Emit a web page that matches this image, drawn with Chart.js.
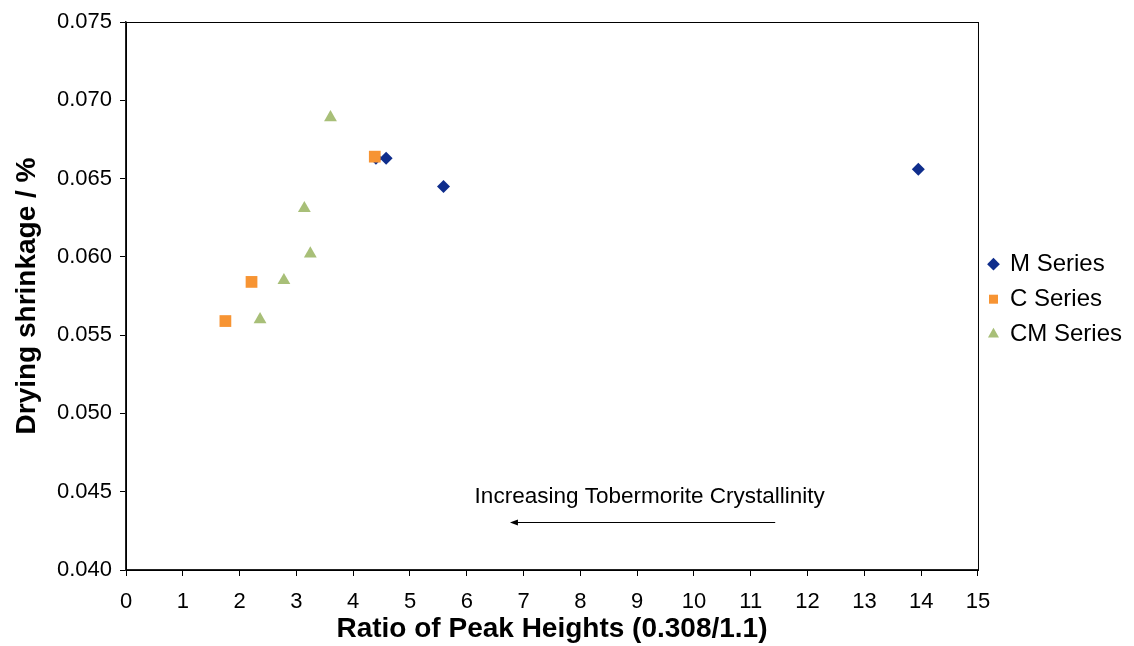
<!DOCTYPE html>
<html>
<head>
<meta charset="utf-8">
<script src="https://cdn.jsdelivr.net/npm/chart.js@4/dist/chart.umd.min.js"></script>
<style>
html,body{margin:0;padding:0;background:#fff;}
#wrap{width:1134px;height:646px;position:relative;}
</style>
</head>
<body>
<div id="wrap"><canvas id="c" width="1134" height="646"></canvas></div>
<script>
// ---- Data ----
const seriesNames = ["M Series", "C Series", "CM Series"];
const mX = [4.40, 4.58, 5.59, 13.95];
const mY = [0.0663, 0.0663, 0.0645, 0.0656];
const cX = [1.75, 2.21, 4.38];
const cY = [0.0559, 0.0584, 0.0664];
const cmX = [2.36, 2.78, 3.14, 3.245, 3.60];
const cmY = [0.0560, 0.0585, 0.0631, 0.0602, 0.0689];
const xTickValues = [0,1,2,3,4,5,6,7,8,9,10,11,12,13,14,15];
const yTickValues = [0.040,0.045,0.050,0.055,0.060,0.065,0.070,0.075];
const xTitle = "Ratio of Peak Heights (0.308/1.1)";
const yTitle = "Drying shrinkage / %";
const noteText = "Increasing Tobermorite Crystallinity";
const arrowFromX = 11.43, arrowToX = 6.76, arrowY = 0.04307;
const noteX = 9.22, noteY = 0.04467;

const toPts = (xs, ys) => xs.map((x, i) => ({x: x, y: ys[i]}));
const FONT = "'Liberation Sans', Arial, sans-serif";

const framePlugin = {
  id: 'frame',
  afterDatasetsDraw(chart) {
    const {ctx, chartArea: a, scales} = chart;
    ctx.save();
    ctx.strokeStyle = '#000';
    ctx.lineWidth = 1;
    ctx.strokeRect(a.left + 0.5, a.top + 0.5, a.right - a.left, a.bottom - a.top);
    // annotation arrow
    const x1 = scales.x.getPixelForValue(arrowFromX);
    const x2 = scales.x.getPixelForValue(arrowToX);
    const yy = Math.round(scales.y.getPixelForValue(arrowY)) + 0.5;
    ctx.beginPath();
    ctx.moveTo(x1, yy);
    ctx.lineTo(x2 + 6, yy);
    ctx.stroke();
    ctx.fillStyle = '#000';
    ctx.beginPath();
    ctx.moveTo(x2, yy);
    ctx.lineTo(x2 + 8, yy - 3);
    ctx.lineTo(x2 + 8, yy + 3);
    ctx.closePath();
    ctx.fill();
    ctx.font = "22.5px " + FONT;
    ctx.textAlign = 'center';
    ctx.textBaseline = 'middle';
    ctx.fillText(noteText, scales.x.getPixelForValue(noteX), scales.y.getPixelForValue(noteY));
    ctx.restore();
  }
};

new Chart(document.getElementById('c'), {
  type: 'scatter',
  data: {
    datasets: [
      {label: seriesNames[0], data: toPts(mX, mY), pointStyle: 'rectRot', pointRadius: 6.5,
       backgroundColor: '#0f2d8c', borderColor: '#0f2d8c', borderWidth: 0, order: 2},
      {label: seriesNames[1], data: toPts(cX, cY), pointStyle: 'rect', pointRadius: 8.3,
       backgroundColor: '#f79433', borderColor: '#f79433', borderWidth: 0, order: 1},
      {label: seriesNames[2], data: toPts(cmX, cmY), pointStyle: 'triangle', pointRadius: 7.4,
       backgroundColor: '#a8bf78', borderColor: '#a8bf78', borderWidth: 0, order: 0}
    ]
  },
  options: {
    responsive: false,
    animation: false,
    layout: {padding: {top: 22, right: 2, bottom: 0, left: 0}},
    plugins: {
      tooltip: {enabled: false},
      legend: {
        position: 'right',
        align: 'start',
        title: {display: true, text: ' ', font: {size: 1}, padding: {top: 218, bottom: 0}},
        labels: {
          usePointStyle: true, boxWidth: 9, boxHeight: 9, padding: 11,
          color: '#000', font: {family: FONT, size: 24},
          sort: (a, b) => a.datasetIndex - b.datasetIndex
        }
      }
    },
    scales: {
      x: {
        type: 'linear', min: 0, max: 15,
        afterBuildTicks: s => { s.ticks = xTickValues.map(v => ({value: v})); },
        afterFit: s => { s.height = 76; },
        grid: {drawOnChartArea: false, drawTicks: true, tickLength: 6, color: '#000', tickColor: '#000'},
        border: {display: true, color: '#222', width: 1.5},
        ticks: {color: '#000', font: {family: FONT, size: 22}, padding: 13, maxRotation: 0, autoSkip: false},
        title: {display: true, text: xTitle, color: '#000', font: {family: FONT, size: 28, weight: 'bold'}, padding: {top: 0, bottom: 0}}
      },
      y: {
        type: 'linear', min: 0.040, max: 0.075,
        afterBuildTicks: s => { s.ticks = yTickValues.map(v => ({value: v})); },
        afterFit: s => { s.width = 126; },
        grid: {drawOnChartArea: false, drawTicks: true, tickLength: 6, color: '#000', tickColor: '#000'},
        border: {display: true, color: '#222', width: 1.5},
        ticks: {color: '#000', font: {family: FONT, size: 22}, padding: 8, autoSkip: false,
                callback: v => Number(v).toFixed(3)},
        title: {display: true, text: yTitle, color: '#000', font: {family: FONT, size: 28, weight: 'bold'}, padding: {top: 10, bottom: 0}}
      }
    }
  },
  plugins: [framePlugin]
});
</script>
</body>
</html>
